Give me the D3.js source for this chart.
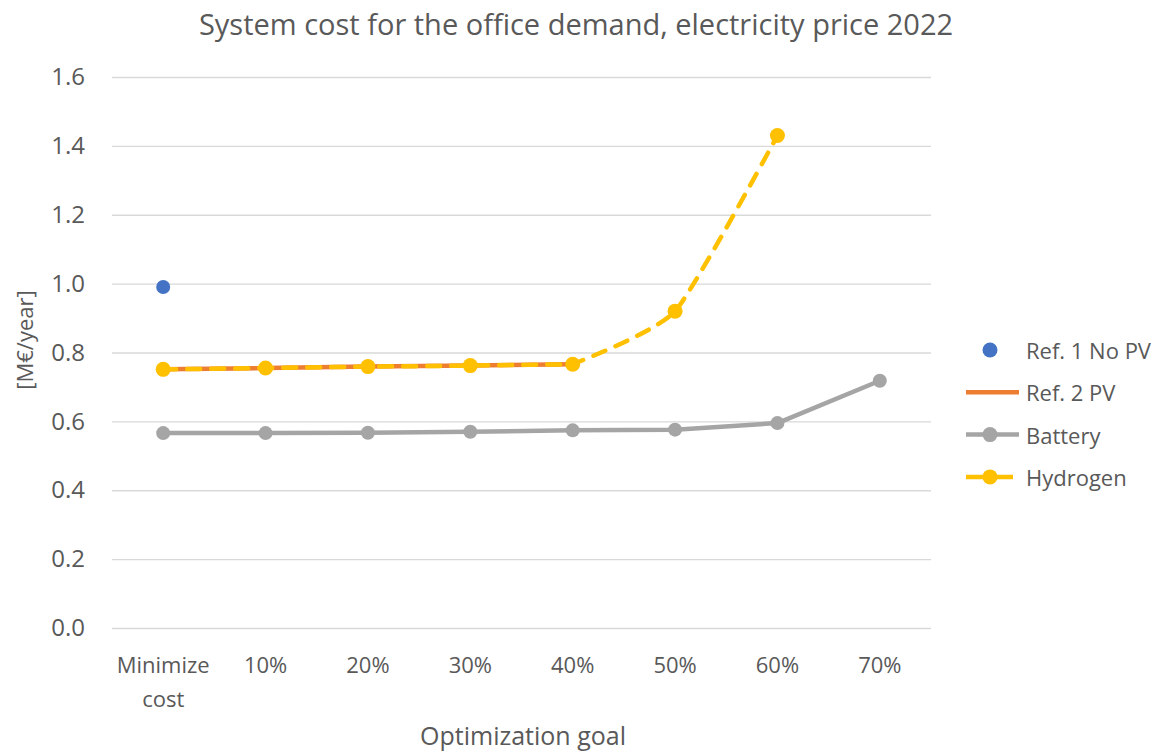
<!DOCTYPE html>
<html>
<head>
<meta charset="utf-8">
<script src="https://cdn.jsdelivr.net/npm/d3@7"></script>
<style>
  html, body { margin: 0; padding: 0; background: #ffffff; }
  svg { display: block; }
</style>
</head>
<body>
<svg id="chart" width="1160" height="752"></svg>
<script>
// Optimization goals along the x axis
const categories = ["Minimize cost", "10%", "20%", "30%", "40%", "50%", "60%", "70%"];
const categoryLines = [["Minimize", "cost"], ["10%"], ["20%"], ["30%"], ["40%"], ["50%"], ["60%"], ["70%"]];

// System cost per scenario, M€/year (null = no value)
const ref1NoPV = [0.99, null, null, null, null, null, null, null];
const ref2PV = [0.751, 0.755, 0.759, 0.762, 0.766, null, null, null];
const battery = [0.566, 0.566, 0.567, 0.570, 0.574, 0.576, 0.595, 0.718];
const hydrogen = [0.751, 0.755, 0.759, 0.762, 0.766, 0.92, 1.43, null];

const yTicks = [0, 0.2, 0.4, 0.6, 0.8, 1.0, 1.2, 1.4, 1.6];

const colors = { ref1: "#4472c4", ref2: "#ed7d31", battery: "#a5a5a5", hydrogen: "#ffc000" };
const textColor = "#595959";
const font = "'Open Sans', 'Noto Sans', sans-serif";

const svg = d3.select("#chart");

const x = d3.scaleBand().domain(categories).range([112, 931]);
const cx = c => x(c) + x.bandwidth() / 2;
const y = d3.scaleLinear().domain([0, 1.6]).range([628, 77]);

// Title
svg.append("text")
  .attr("x", 576).attr("y", 35)
  .attr("text-anchor", "middle")
  .attr("font-family", font)
  .attr("font-size", 29)
  .attr("fill", textColor)
  .text("System cost for the office demand, electricity price 2022");

// Horizontal gridlines and y tick labels
const yAxis = d3.axisLeft(y).tickValues(yTicks).tickFormat(d3.format(".1f")).tickSize(-(931 - 112)).tickPadding(27);
const gy = svg.append("g").attr("transform", "translate(112,0)").call(yAxis);
gy.select(".domain").remove();
gy.selectAll(".tick line").attr("stroke", "#d9d9d9").attr("stroke-width", 1.3);
gy.selectAll(".tick text")
  .attr("font-family", font).attr("font-size", 24).attr("fill", textColor);

// X category labels
const xAxis = d3.axisBottom(x).tickSize(0).tickFormat(() => "");
const gx = svg.append("g").attr("transform", "translate(0,628)").call(xAxis);
gx.select(".domain").remove();
gx.selectAll(".tick").each(function(d, i) {
  const t = d3.select(this).select("text")
    .attr("y", 0).attr("dy", null)
    .attr("font-family", font).attr("font-size", 22).attr("fill", textColor)
    .attr("text-anchor", "middle");
  categoryLines[i].forEach((line, k) => {
    t.append("tspan").attr("x", 0).attr("y", 45 + k * 34).text(line);
  });
});

// Axis titles
svg.append("text")
  .attr("transform", "translate(33,340) rotate(-90)")
  .attr("text-anchor", "middle")
  .attr("font-family", font).attr("font-size", 22).attr("fill", textColor)
  .text("[M€/year]");

svg.append("text")
  .attr("x", 523).attr("y", 745)
  .attr("text-anchor", "middle")
  .attr("font-family", font).attr("font-size", 25).attr("fill", textColor)
  .text("Optimization goal");

const pts = vals => categories.map((c, i) => ({ c, v: vals[i] })).filter(d => d.v !== null);
const straight = d3.line().x(d => cx(d.c)).y(d => y(d.v));
const smooth = d3.line().curve(d3.curveCardinal.tension(0.45)).x(d => cx(d.c)).y(d => y(d.v));

// Battery: solid grey line with markers
svg.append("path")
  .datum(pts(battery))
  .attr("fill", "none").attr("stroke", colors.battery).attr("stroke-width", 4.5)
  .attr("stroke-linecap", "round").attr("stroke-linejoin", "round")
  .attr("d", straight);
svg.selectAll(".mk-bat").data(pts(battery)).join("circle")
  .attr("cx", d => cx(d.c)).attr("cy", d => y(d.v)).attr("r", 7)
  .attr("fill", colors.battery);

// Ref. 2 PV: solid orange line
svg.append("path")
  .datum(pts(ref2PV))
  .attr("fill", "none").attr("stroke", colors.ref2).attr("stroke-width", 4.5)
  .attr("d", straight);

// Hydrogen: dashed yellow line, flat part straight, steep rise smoothed
const h2 = pts(hydrogen);
const h2Flat = h2.slice(0, 5);
const h2Rise = h2.slice(4);
const h2Path = straight(h2Flat) + smooth(h2Rise).replace(/^M/, "L");
svg.append("path")
  .attr("fill", "none").attr("stroke", colors.hydrogen).attr("stroke-width", 4.5)
  .attr("stroke-dasharray", "13,11").attr("stroke-linecap", "round")
  .attr("d", h2Path);
svg.selectAll(".mk-h2").data(h2).join("circle")
  .attr("cx", d => cx(d.c)).attr("cy", d => y(d.v)).attr("r", 7.5)
  .attr("fill", colors.hydrogen);

// Ref. 1 No PV: single marker
svg.selectAll(".mk-ref1").data(pts(ref1NoPV)).join("circle")
  .attr("cx", d => cx(d.c)).attr("cy", d => y(d.v)).attr("r", 7)
  .attr("fill", colors.ref1);

// Legend
const legendItems = [
  { name: "Ref. 1 No PV", color: colors.ref1, line: false, marker: true, dash: null },
  { name: "Ref. 2 PV", color: colors.ref2, line: true, marker: false, dash: null },
  { name: "Battery", color: colors.battery, line: true, marker: true, dash: null },
  { name: "Hydrogen", color: colors.hydrogen, line: true, marker: true, dash: "18,11" }
];
const lg = svg.append("g");
legendItems.forEach((it, i) => {
  const yy = 350 + i * 42.3;
  const g = lg.append("g").attr("transform", `translate(0,${yy})`);
  if (it.line) {
    g.append("line").attr("x1", 966).attr("x2", 1019).attr("y1", 0).attr("y2", 0)
      .attr("stroke", it.color).attr("stroke-width", 4.5)
      .attr("stroke-dasharray", it.dash);
  }
  if (it.marker) {
    g.append("circle").attr("cx", 990).attr("cy", 0).attr("r", 7.5).attr("fill", it.color);
  }
  g.append("text").attr("x", 1026).attr("y", 9)
    .attr("font-family", font).attr("font-size", 22).attr("fill", textColor)
    .text(it.name);
});
</script>
</body>
</html>
